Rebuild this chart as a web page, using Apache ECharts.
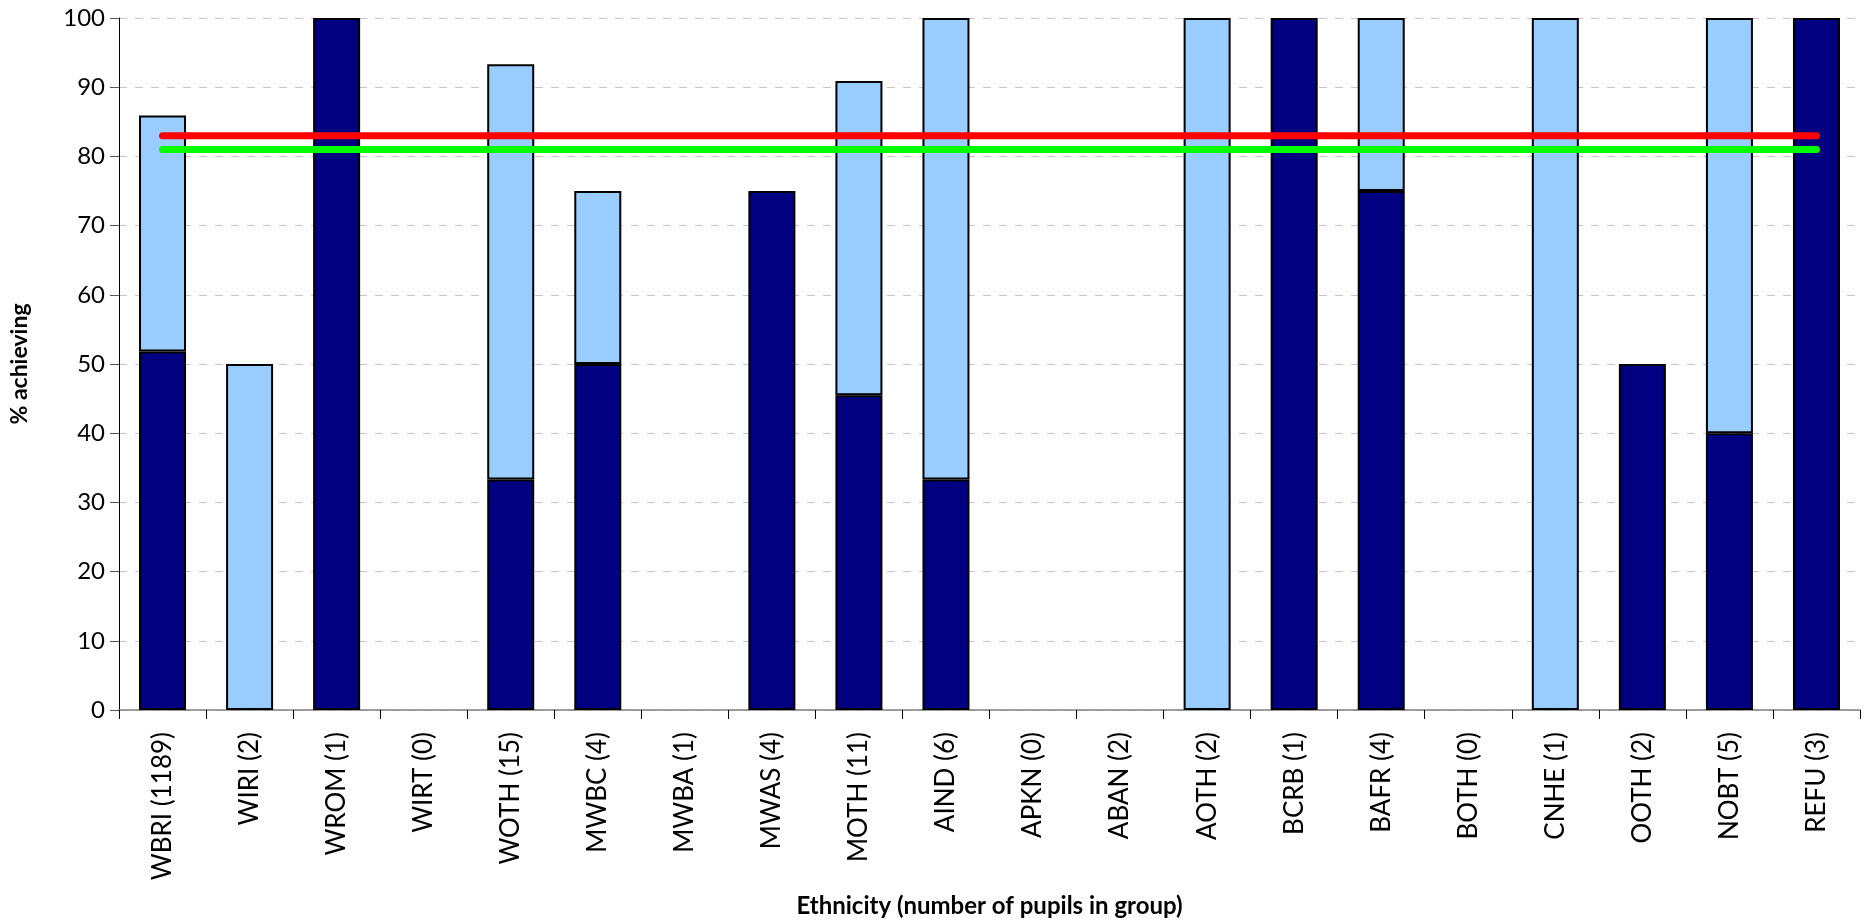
<!DOCTYPE html>
<html>
<head>
<meta charset="utf-8">
<script src="https://cdn.jsdelivr.net/npm/echarts@6/dist/echarts.min.js"></script>
<style>html,body{margin:0;padding:0;background:#fff}#c{width:1867px;height:924px}</style>
</head>
<body>
<div id="c"></div>
<script>
const categories = ["WBRI (1189)","WIRI (2)","WROM (1)","WIRT (0)","WOTH (15)","MWBC (4)","MWBA (1)","MWAS (4)","MOTH (11)","AIND (6)","APKN (0)","ABAN (2)","AOTH (2)","BCRB (1)","BAFR (4)","BOTH (0)","CNHE (1)","OOTH (2)","NOBT (5)","REFU (3)"];
const darkValues  = [51.8, null, 100, null, 33.3, 50, null, 75, 45.5, 33.3, null, null, null, 100, 75, null, null, 50, 40, 100];
const lightValues = [34.1, 50, null, null, 60, 25, null, null, 45.4, 66.7, null, null, 100, null, 25, null, 100, null, 60, null];
const redLine   = [83,83,83,83,83,83,83,83,83,83,83,83,83,83,83,83,83,83,83,83];
const greenLine = [81,81,81,81,81,81,81,81,81,81,81,81,81,81,81,81,81,81,81,81];
const yTicks = [0,10,20,30,40,50,60,70,80,90,100];

const FONT = "Lato, 'DejaVu Sans', sans-serif";
const chart = echarts.init(document.getElementById('c'), null, {renderer:'canvas'});
chart.setOption({
  animation:false,
  backgroundColor:'#fff',
  grid:{left:118, right:7, top:18, bottom:214, containLabel:false},
  xAxis:{
    type:'category', data:categories,
    name:'Ethnicity (number of pupils in group)', nameLocation:'middle', nameGap:184,
    nameTextStyle:{fontFamily:FONT, fontWeight:'bold', fontSize:24, color:'#000'},
    axisLine:{show:true, lineStyle:{color:'#808080', width:1.5}},
    axisTick:{show:true, alignWithLabel:false, length:9, lineStyle:{color:'#000', width:1}},
    axisLabel:{rotate:90, interval:0, margin:22, fontFamily:FONT, fontSize:26, color:'#000'},
    splitLine:{show:false}
  },
  yAxis:{
    type:'value', min:0, max:100, interval:10,
    name:'% achieving', nameLocation:'middle', nameGap:88, nameRotate:90,
    nameTextStyle:{fontFamily:FONT, fontWeight:'bold', fontSize:23, color:'#000'},
    axisLine:{show:true, lineStyle:{color:'#000', width:1}},
    axisTick:{show:true, length:9, inside:false, lineStyle:{color:'#555'}},
    axisLabel:{fontFamily:FONT, fontSize:24, color:'#000', margin:14,
      formatter:v=>yTicks.includes(v)?String(v):''},
    splitLine:{show:true, lineStyle:{type:[8,8], color:'#c8c8c8', width:1}}
  },
  series:[
    {type:'bar', stack:'s', data:darkValues, barWidth:'54%',
      itemStyle:{color:'#000080', borderColor:'#000', borderWidth:2}},
    {type:'bar', stack:'s', data:lightValues, barWidth:'54%',
      itemStyle:{color:'#99CCFF', borderColor:'#000', borderWidth:2}},
    {type:'line', data:redLine, symbol:'none', z:5,
      lineStyle:{color:'#FF0000', width:7, cap:'round'}},
    {type:'line', data:greenLine, symbol:'none', z:5,
      lineStyle:{color:'#00FF00', width:7, cap:'round'}}
  ]
});
</script>
</body>
</html>
